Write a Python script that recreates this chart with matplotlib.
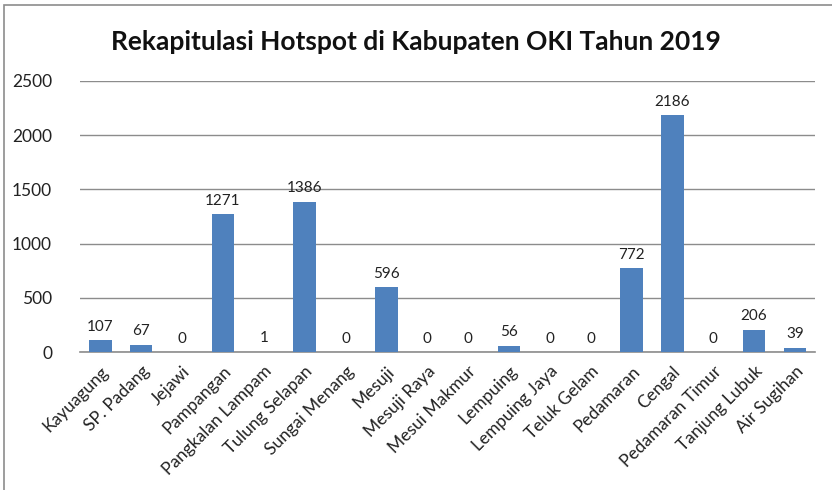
import matplotlib.pyplot as plt
from matplotlib.patches import Rectangle
import numpy as np

# data
kecamatan = ['Kayuagung', 'SP. Padang', 'Jejawi', 'Pampangan', 'Pangkalan Lampam',
             'Tulung Selapan', 'Sungai Menang', 'Mesuji', 'Mesuji Raya', 'Mesui Makmur',
             'Lempuing', 'Lempuing Jaya', 'Teluk Gelam', 'Pedamaran', 'Cengal',
             'Pedamaran Timur', 'Tanjung Lubuk', 'Air Sugihan']
hotspot = [107, 67, 0, 1271, 1, 1386, 0, 596, 0, 0, 56, 0, 0, 772, 2186, 0, 206, 39]
yticks = [0, 500, 1000, 1500, 2000, 2500]

plt.rcParams['font.family'] = ['Lato', 'DejaVu Sans']

fig = plt.figure(figsize=(8.32, 4.9), dpi=100)
ax = fig.add_axes([0.096, 0.2816, 0.884, 0.5531])

# outer chart frame
fig.patches.append(Rectangle((0.005, -0.01), 1.2, 1.0, transform=fig.transFigure,
                             fill=False, edgecolor='#8c8c8c', linewidth=1.2))

x = np.arange(len(kecamatan))
bars = ax.bar(x, hotspot, width=0.55, color='#4f81bd', zorder=3)

for xi, v in zip(x, hotspot):
    ax.text(xi, v + 60, str(v), ha='center', va='bottom', fontsize=11, color='#222222')

ax.set_xlim(-0.5, len(kecamatan) - 0.5)
ax.set_ylim(0, 2500)
ax.set_yticks(yticks)
ax.tick_params(axis='y', length=0, pad=20, labelsize=12.5, labelcolor='#222222')
ax.tick_params(axis='x', length=0, pad=8)
ax.set_xticks(x)
ax.set_xticklabels(kecamatan, rotation=45, ha='right', rotation_mode='anchor',
                   fontsize=12.5, color='#222222')

ax.grid(axis='y', color='#8c8c8c', linewidth=1, zorder=0)
for s in ['top', 'right', 'left']:
    ax.spines[s].set_visible(False)
ax.spines['bottom'].set_color('#8c8c8c')
ax.spines['bottom'].set_linewidth(1.2)

fig.text(0.5, 0.915, 'Rekapitulasi Hotspot di Kabupaten OKI Tahun 2019',
         ha='center', va='center', fontsize=19, fontweight='bold', color='#111111')

fig.savefig('out.png', dpi=100)
